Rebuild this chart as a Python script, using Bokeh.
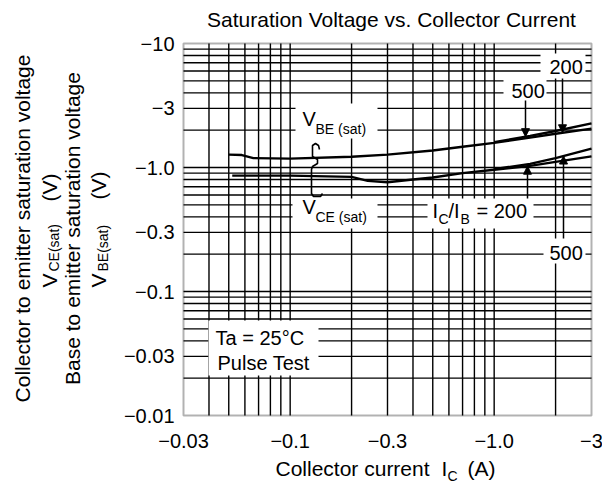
import math
import numpy as np
from bokeh.plotting import figure
from bokeh.models import Label, BoxAnnotation, Arrow, NormalHead
from bokeh.embed import file_html
from bokeh.resources import INLINE

# ---------------- data ----------------
ic_vbe_200 = [0.05, 0.058, 0.066, 0.1, 0.2, 0.3, 0.5, 0.7, 1.0, 1.5, 2.0, 3.0]
vbe_200 = [1.27, 1.26, 1.19, 1.18, 1.22, 1.27, 1.37, 1.47, 1.58, 1.74, 1.87, 2.06]
ic_vbe_500 = [1.0, 1.5, 2.0, 3.0]
vbe_500 = [1.60, 1.80, 1.97, 2.27]

ic_vce_200 = [0.052, 0.1, 0.2, 0.24, 0.3, 0.4, 0.5, 0.7, 1.0, 1.5, 2.0, 3.0]
vce_200 = [0.86, 0.86, 0.84, 0.78, 0.76, 0.80, 0.83, 0.90, 0.96, 1.03, 1.11, 1.23]
ic_vce_500 = [1.0, 1.5, 2.0, 3.0]
vce_500 = [0.97, 1.07, 1.19, 1.42]

x_ticks = [0.03, 0.1, 0.3, 1.0, 3.0]
x_tick_labels = ["\u22120.03", "\u22120.1", "\u22120.3", "\u22121.0", "\u22123"]
y_ticks = [0.01, 0.03, 0.1, 0.3, 1.0, 3.0, 10.0]
y_tick_labels = ["\u22120.01", "\u22120.03", "\u22120.1", "\u22120.3", "\u22121.0", "\u22123", "\u221210"]

x_grid = [0.04, 0.05, 0.06, 0.07, 0.08, 0.09, 0.1, 0.2, 0.3, 0.4, 0.5, 0.6,
          0.7, 0.8, 0.9, 1.0, 2.0]
y_grid = [0.02, 0.03, 0.04, 0.05, 0.06, 0.07, 0.08, 0.09, 0.1, 0.2, 0.3, 0.4,
          0.5, 0.6, 0.7, 0.8, 0.9, 1.0, 2.0, 3.0, 4.0, 5.0, 6.0, 7.0, 8.0, 9.0]

# ---------------- layout ----------------
FONT = "Liberation Sans"
W, H = 602, 485
FL, FR, FT, FB = 183, 591, 43, 415          # plot box edges (pixels)
X0, X1 = x_ticks[0], x_ticks[-1]
Y0, Y1 = y_ticks[0], y_ticks[-1]
PPD_X = (FR - FL) / math.log10(X1 / X0)     # pixels per decade
PPD_Y = (FB - FT) / math.log10(Y1 / Y0)

x_range = (X0 * 10 ** (-FL / PPD_X), X1 * 10 ** ((W - FR) / PPD_X))
y_range = (Y0 * 10 ** (-(H - FB) / PPD_Y), Y1 * 10 ** (FT / PPD_Y))

p = figure(width=W, height=H, x_axis_type="log", y_axis_type="log",
           x_axis_location=None, y_axis_location=None,
           x_range=x_range, y_range=y_range, title=None,
           output_backend="svg", toolbar_location=None, min_border=0)
p.background_fill_color = "white"
p.border_fill_color = "white"
p.outline_line_color = None
p.xgrid.visible = False
p.ygrid.visible = False

# log grid lines, limited to the plot box
p.segment(x0=x_grid, x1=x_grid, y0=[Y0] * len(x_grid), y1=[Y1] * len(x_grid),
          line_color="black", line_width=1.4)
p.segment(x0=[X0] * len(y_grid), x1=[X1] * len(y_grid), y0=y_grid, y1=y_grid,
          line_color="black", line_width=1.4)


def sx(X):
    return X


def sy(Y):
    return H - Y


def xdata(X):
    return X0 * 10 ** ((X - FL) / PPD_X)


def ydata(Y):
    return Y1 * 10 ** (-(Y - FT) / PPD_Y)


# curves
for xs, ys in ((ic_vbe_200, vbe_200), (ic_vbe_500, vbe_500),
               (ic_vce_200, vce_200), (ic_vce_500, vce_500)):
    p.line(xs, ys, line_color="black", line_width=2.4)

# brace linking the two curve labels
brace_px = [(319, 149), (318, 145), (315, 143), (312, 145), (312, 156), (317, 159),
            (317, 163), (312, 166), (311, 169), (311, 193), (313, 196), (320, 196),
            (322, 193)]
p.line([xdata(a) for a, b in brace_px], [ydata(b) for a, b in brace_px],
       line_color="black", line_width=1.6)


def white_box(x0, y0, x1, y1):
    p.add_layout(BoxAnnotation(left=sx(x0), right=sx(x1), top=sy(y0), bottom=sy(y1),
                               left_units="screen", right_units="screen",
                               top_units="screen", bottom_units="screen",
                               fill_color="white", fill_alpha=1.0, line_color=None))


# white backgrounds behind in-chart labels (cut the grid)
white_box(295, 103, 377, 138)   # V_BE(sat)
white_box(292, 198, 377, 228)   # V_CE(sat)
white_box(427, 198, 533, 228)   # Ic/Ib = 200
white_box(540, 53, 585, 78)     # 200 (top)
white_box(503, 78, 546, 100)    # 500 (top)
white_box(543, 238, 585, 263)   # 500 (lower)
white_box(208, 320, 318, 375)   # Ta / Pulse Test

# plot box outline
p.add_layout(BoxAnnotation(left=X0, right=X1, bottom=Y0, top=Y1, fill_alpha=0.0,
                           fill_color=None, line_color="black", line_width=2))


def on_curve(xs, ys, x):
    return 10 ** np.interp(math.log10(x), np.log10(xs), np.log10(ys))


# leader arrows from labels to curves
leaders = [
    (xdata(525), ydata(100), ic_vbe_500, vbe_500),   # 500 (top) -> V_BE
    (xdata(562), ydata(78), ic_vbe_200, vbe_200),    # 200 (top) -> V_BE
    (xdata(527), ydata(198), ic_vce_200, vce_200),   # Ic/Ib = 200 -> V_CE
    (xdata(563), ydata(238), ic_vce_500, vce_500),   # 500 (lower) -> V_CE
]
for x0, y0, xs, ys in leaders:
    p.add_layout(Arrow(x_start=x0, y_start=y0, x_end=x0, y_end=on_curve(xs, ys, x0),
                       line_color="black", line_width=1.5,
                       end=NormalHead(size=8, fill_color="black", line_color="black")))

MID = 0.35   # cap-centre above the baseline, in em


def lab(text, X, Y, size=20, align="left", angle=0.0):
    """X, Y: position of the text baseline (pixels); drawn with a 'middle' baseline."""
    if angle:
        X = X - MID * size
    else:
        Y = Y - MID * size
    p.add_layout(Label(x=sx(X), y=sy(Y), x_units="screen", y_units="screen",
                       text=text, text_font=FONT, text_font_size=f"{size}px",
                       text_align=align, text_baseline="middle", angle=angle,
                       text_color="black"))


# tick labels
for t, s in zip(x_ticks, x_tick_labels):
    p.add_layout(Label(x=t, y=sy(447 - MID * 20), x_units="data", y_units="screen",
                       text=s, text_font=FONT, text_font_size="20px",
                       text_align="center", text_baseline="middle", text_color="black"))
for t, s in zip(y_ticks, y_tick_labels):
    p.add_layout(Label(x=sx(174), y=t, x_units="screen", y_units="data", text=s,
                       text_font=FONT, text_font_size="20px", text_align="right",
                       text_baseline="middle", text_color="black"))

# in-chart texts
lab("V", 302, 125)
lab("BE (sat)", 315, 133, 14)
lab("V", 302, 213)
lab("CE (sat)", 315, 221, 14)
lab("I", 432, 217)
lab("C", 438, 223, 14)
lab("/I", 448, 217)
lab("B", 460, 223, 14)
lab("= 200", 476, 217)
lab("200", 549, 73)
lab("500", 511, 97)
lab("500", 549, 259)
lab("Ta = 25\u00b0C", 215, 344)
lab("Pulse Test", 217, 369)

# title
lab("Saturation Voltage vs. Collector Current", 391, 26, 21, align="center")

# x-axis title
lab("Collector current", 275, 475, 21)
lab("I", 441, 475, 21)
lab("C", 447, 480, 14)
lab("(A)", 467, 475, 21)

# y-axis titles (rotated)
R = math.pi / 2
lab("Collector to emitter saturation voltage", 29, 228, 21, align="center", angle=R)
lab("V", 56, 287, 21, angle=R)
lab("CE(sat)", 58, 271, 14, angle=R)
lab("(V)", 56, 201, 21, angle=R)
lab("Base to emitter saturation voltage", 79, 228, 21, align="center", angle=R)
lab("V", 105, 287, 21, angle=R)
lab("BE(sat)", 107, 271, 14, angle=R)
lab("(V)", 105, 199, 21, angle=R)

open("out.html", "w").write(file_html(p, INLINE))
